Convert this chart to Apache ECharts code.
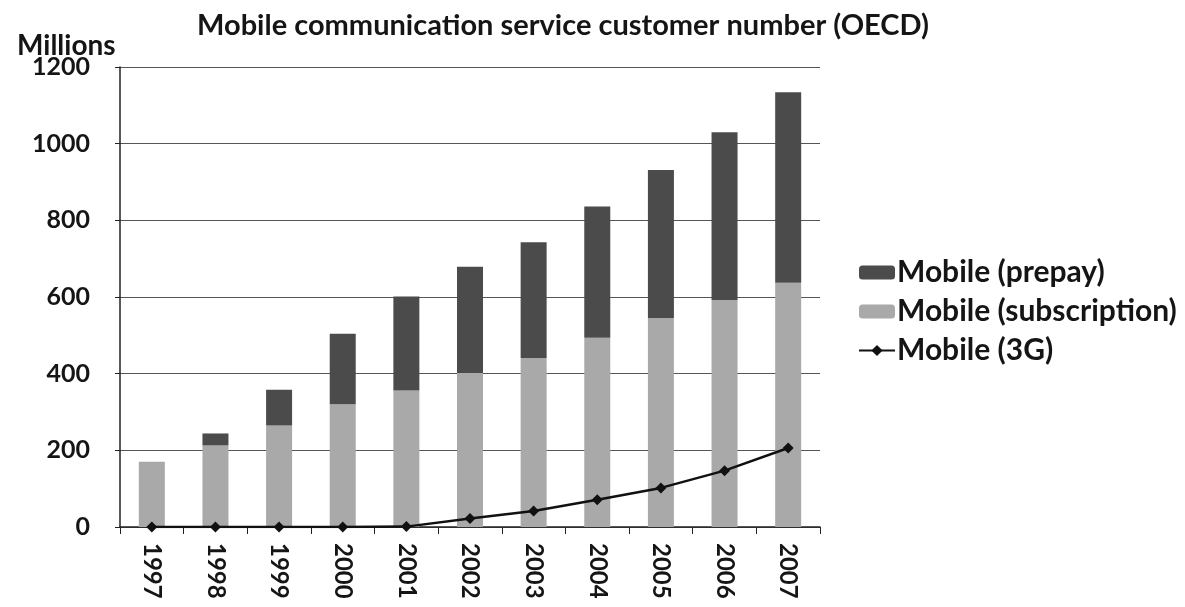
<!DOCTYPE html>
<html>
<head>
<meta charset="utf-8">
<script src="https://cdn.jsdelivr.net/npm/echarts@6/dist/echarts.min.js"></script>
<style>
  html, body { margin: 0; padding: 0; background: #fff; }
  #chart { width: 1185px; height: 607px; }
</style>
</head>
<body>
<div id="chart"></div>
<script>
// Mobile customers in the OECD area, millions
const years = ['1997', '1998', '1999', '2000', '2001', '2002', '2003', '2004', '2005', '2006', '2007'];
const subscription = [170, 213, 265, 320, 356, 402, 441, 494, 545, 592, 637];
const prepay = [0, 31, 93, 184, 245, 277, 302, 342, 386, 438, 497];
const threeG = [0, 0, 0, 0, 1, 22, 42, 71, 102, 147, 206];
const yTicks = [0, 200, 400, 600, 800, 1000, 1200];

const FONT = 'Lato, "Open Sans", sans-serif';
const chart = echarts.init(document.getElementById('chart'));

chart.setOption({
  backgroundColor: '#fff',
  animation: false,
  textStyle: { fontFamily: FONT, color: '#111' },
  title: [
    {
      text: 'Mobile communication service customer number (OECD)',
      left: 558, top: 6, textAlign: 'center',
      textStyle: { fontFamily: FONT, fontSize: 29, fontWeight: 'bold', color: '#151515' }
    },
    {
      text: 'Millions',
      left: 12, top: 27,
      textStyle: { fontFamily: FONT, fontSize: 28, fontWeight: 'bold', color: '#151515' }
    }
  ],
  legend: {
    orient: 'vertical',
    left: 853, top: 252,
    itemGap: 8,
    itemWidth: 36, itemHeight: 14,
    textStyle: { fontFamily: FONT, fontSize: 30, fontWeight: 'bold', color: '#151515', lineHeight: 31, padding: [0, 0, 0, -3] },
    data: ['Mobile (prepay)', 'Mobile (subscription)', 'Mobile (3G)']
  },
  grid: { left: 120, right: 365, top: 67, bottom: 80 },
  xAxis: {
    type: 'category',
    data: years,
    boundaryGap: true,
    axisLine: { lineStyle: { color: '#222', width: 1.5 } },
    axisTick: { show: true, length: 7, interval: 0, lineStyle: { color: '#222' } },
    axisLabel: {
      rotate: -90, margin: 16, interval: 0,
      fontFamily: FONT, fontSize: 24, fontWeight: 'bold', color: '#151515'
    }
  },
  yAxis: {
    type: 'value',
    min: yTicks[0], max: yTicks[yTicks.length - 1], interval: yTicks[1] - yTicks[0],
    axisLine: { show: true, lineStyle: { color: '#222', width: 1.5 } },
    axisTick: { show: true, length: 5, lineStyle: { color: '#222' } },
    axisLabel: {
      margin: 30, fontFamily: FONT, fontSize: 25, fontWeight: 'bold', color: '#151515',
      formatter: v => String(v)
    },
    splitLine: { lineStyle: { color: '#555', width: 1 } }
  },
  series: [
    {
      name: 'Mobile (subscription)', type: 'bar', stack: 'total',
      data: subscription, barWidth: 26,
      itemStyle: { color: '#a9a9a9' }
    },
    {
      name: 'Mobile (prepay)', type: 'bar', stack: 'total',
      data: prepay, barWidth: 26,
      itemStyle: { color: '#4b4b4b' }
    },
    {
      name: 'Mobile (3G)', type: 'line',
      data: threeG,
      symbol: 'diamond', symbolSize: 11,
      lineStyle: { color: '#111', width: 2.5 },
      itemStyle: { color: '#111' },
      z: 5
    }
  ]
});
</script>
</body>
</html>
